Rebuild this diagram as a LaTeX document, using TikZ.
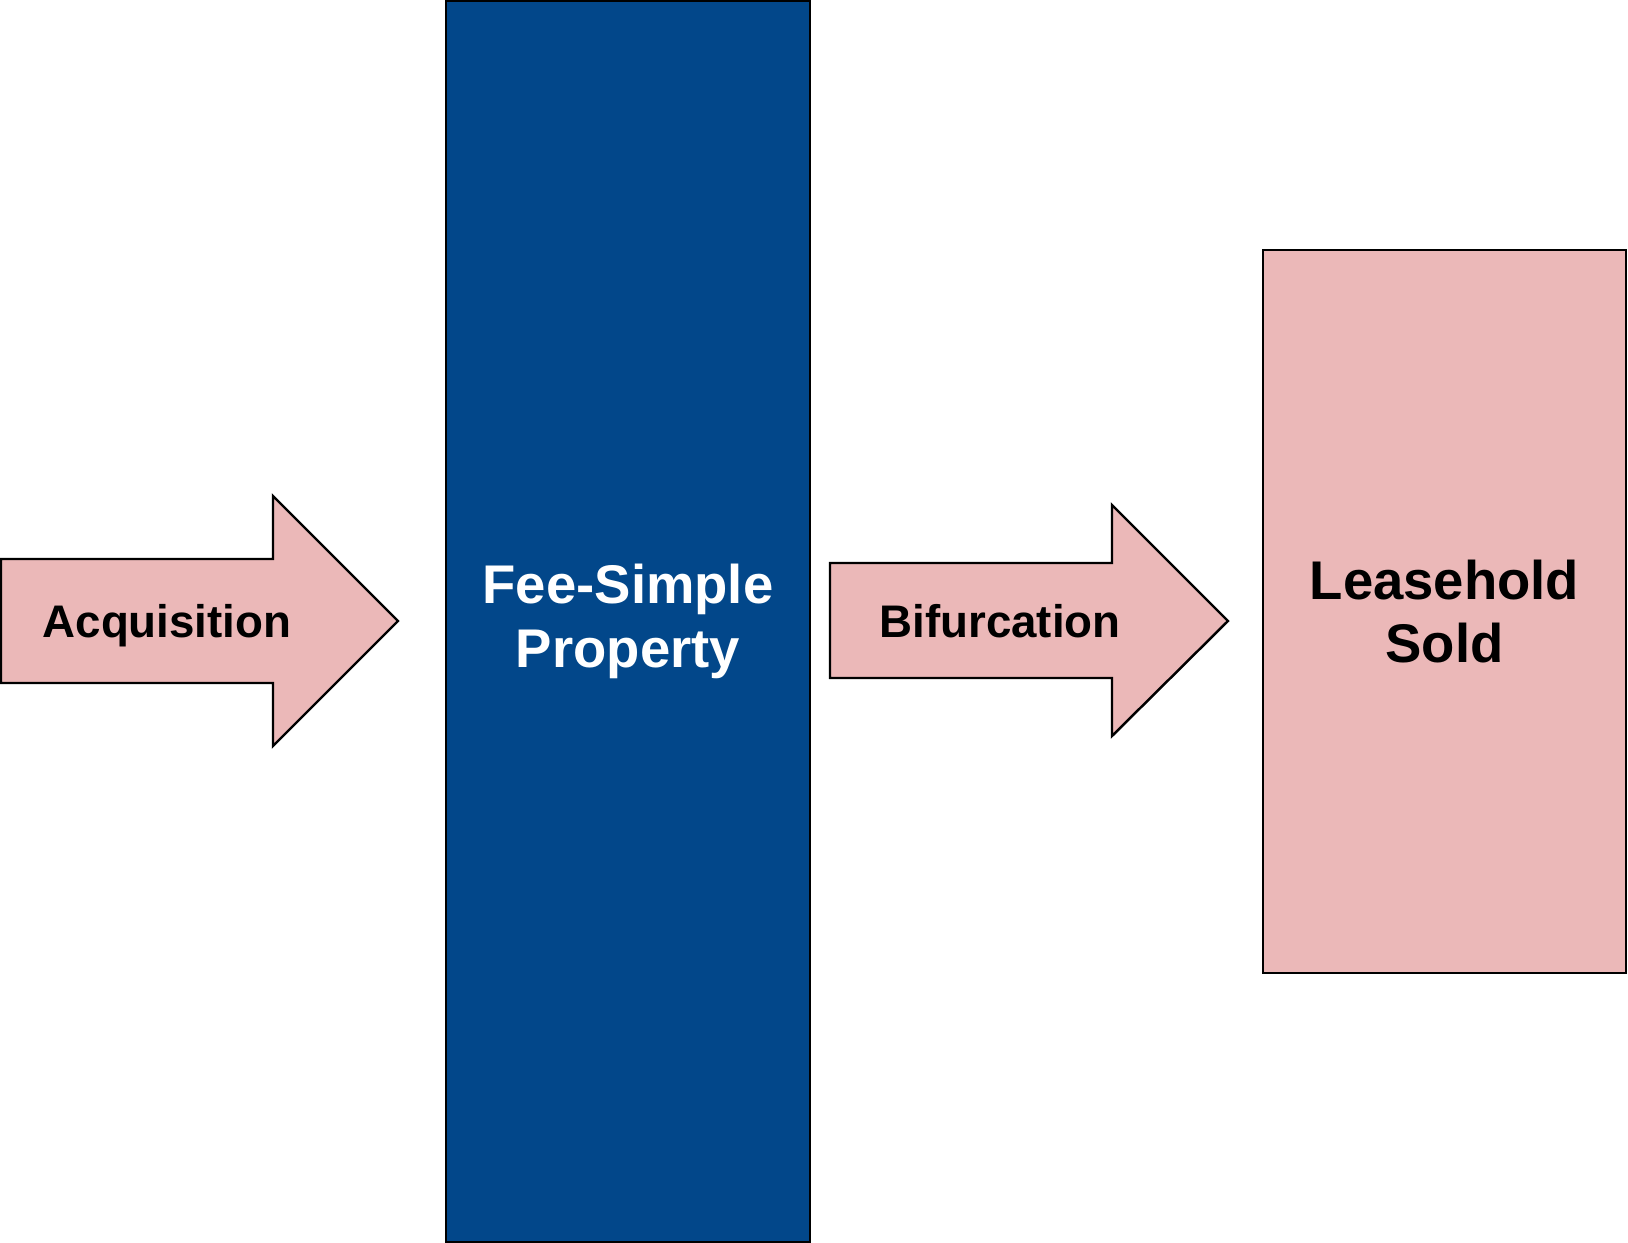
\documentclass[tikz,border=0pt]{standalone}
\usepackage{fontspec}
\setmainfont{Liberation Sans}
\usepackage{tikz}
\usetikzlibrary{positioning}
\definecolor{feeblue}{RGB}{2,71,138}
\definecolor{leasepink}{RGB}{235,184,184}

\begin{document}
\begin{tikzpicture}[x=0.1mm,y=-0.1mm]
    \useasboundingbox (0,0) rectangle (1628,1243);

    % Freccia Acquisition
    \filldraw[fill=leasepink,draw=black,line width=0.7pt] (1,559) -- (273,559) -- (273,496) -- (398,621) -- (273,746) -- (273,683) -- (1,683) -- cycle;
    \node[anchor=base,font=\fontsize{13}{16}\selectfont\bfseries] (acq) at (167,637) {Acquisition};

    % Blocco Fee-Simple
    \node[draw=black,fill=feeblue,line width=0.8pt,minimum width=36.4mm,minimum height=124.1mm,
          align=center,text=white,font=\fontsize{15.5}{18.3}\selectfont\bfseries] (fee) at (628,621.5) {Fee-Simple\\Property};

    % Freccia Bifurcation
    \filldraw[fill=leasepink,draw=black,line width=0.7pt] (830,563) -- (1112,563) -- (1112,505) -- (1228,621) -- (1112,736) -- (1112,678) -- (830,678) -- cycle;
    \node[anchor=base,font=\fontsize{13}{16}\selectfont\bfseries] (bif) at (1000,637) {Bifurcation};

    % Blocco Leasehold
    \node[draw=black,fill=leasepink,line width=0.8pt,minimum width=36.3mm,minimum height=72.3mm,
          align=center,font=\fontsize{15.5}{17.7}\selectfont\bfseries] (lease) at (1444.5,611.5) {Leasehold\\Sold};
\end{tikzpicture}
\end{document}
